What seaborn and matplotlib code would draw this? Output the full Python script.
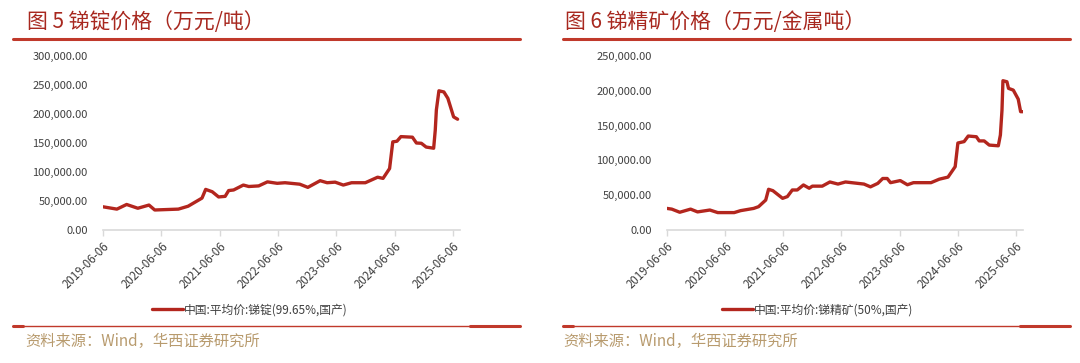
import matplotlib
matplotlib.use("Agg")
import matplotlib.pyplot as plt
import matplotlib.dates as mdates
from matplotlib.lines import Line2D
import pandas as pd
import seaborn as sns

# ---------------- data ----------------
ingot_dates = ["2019-06-06", "2019-09-01", "2019-11-01", "2020-01-10", "2020-03-20", "2020-04-25",
               "2020-09-20", "2020-11-20", "2021-01-15", "2021-02-15", "2021-03-10", "2021-04-20",
               "2021-05-30", "2021-07-10", "2021-08-01", "2021-09-01", "2021-11-01", "2021-12-05",
               "2022-02-05", "2022-04-01", "2022-06-01", "2022-07-20", "2022-10-20", "2022-12-10",
               "2023-02-25", "2023-04-10", "2023-05-30", "2023-07-20", "2023-09-10", "2023-12-05",
               "2024-02-20", "2024-03-25", "2024-05-05", "2024-05-25", "2024-06-20", "2024-07-15",
               "2024-09-25", "2024-10-20", "2024-11-20", "2024-12-20", "2025-02-05", "2025-02-15",
               "2025-02-22", "2025-03-10", "2025-04-10", "2025-05-05", "2025-06-10", "2025-07-05"]
ingot_values = [40000, 36000, 44000, 37500, 43000, 34500,
                36000, 41000, 50000, 55000, 70000, 66000,
                57000, 58000, 68000, 69000, 77500, 75000,
                76000, 83000, 80500, 81500, 79000, 73500,
                85000, 81500, 82500, 77500, 81500, 81500,
                91000, 89000, 106000, 152000, 153000, 161000,
                160000, 150000, 149500, 143000, 141000, 172000,
                207000, 240000, 238000, 227000, 195000, 191000]

ore_dates = ["2019-06-06", "2019-07-06", "2019-08-25", "2019-11-01", "2019-12-15", "2020-03-01",
             "2020-04-20", "2020-08-01", "2020-09-10", "2020-12-01", "2021-01-01", "2021-02-15",
             "2021-03-05", "2021-04-01", "2021-06-01", "2021-07-01", "2021-08-01", "2021-09-01",
             "2021-10-10", "2021-11-15", "2021-12-05", "2022-02-05", "2022-03-25", "2022-05-15",
             "2022-07-01", "2022-10-25", "2022-12-05", "2023-01-20", "2023-02-20", "2023-03-20",
             "2023-04-10", "2023-06-10", "2023-07-25", "2023-09-01", "2023-12-20", "2024-02-10",
             "2024-04-05", "2024-05-05", "2024-05-20", "2024-06-06", "2024-07-15", "2024-08-10",
             "2024-09-30", "2024-10-18", "2024-11-18", "2024-12-20", "2025-02-15", "2025-02-28",
             "2025-03-10", "2025-03-16", "2025-04-10", "2025-04-20", "2025-05-20", "2025-06-20",
             "2025-07-05", "2025-07-20"]
ore_values = [31000, 30000, 25500, 30000, 26000, 28700,
              25000, 25000, 27800, 31000, 33500, 43000,
              58500, 56500, 45500, 48000, 57500, 57500,
              64700, 60000, 63000, 63000, 69000, 66000,
              69000, 66000, 62000, 67000, 74000, 74000,
              68000, 71000, 65000, 68000, 68000, 73000,
              76000, 86000, 91000, 125000, 127000, 135000,
              134000, 128000, 128000, 122000, 121000, 136500,
              172000, 214500, 213000, 203500, 201000, 188000,
              170000, 170000]

tick_labels = ["2019-06-06", "2020-06-06", "2021-06-06", "2022-06-06",
               "2023-06-06", "2024-06-06", "2025-06-06"]

titles = ["图 5 锑锭价格（万元/吨）", "图 6 锑精矿价格（万元/金属吨）"]
series_names = ["中国:平均价:锑锭(99.65%,国产)", "中国:平均价:锑精矿(50%,国产)"]
source_text = "资料来源：Wind，华西证券研究所"
yticks_left = [0, 50000, 100000, 150000, 200000, 250000, 300000]
yticks_right = [0, 50000, 100000, 150000, 200000, 250000]

# ---------------- style ----------------
sns.set_theme(style="white")
plt.rcParams['font.family'] = ['Noto Sans CJK SC', 'DejaVu Sans']

LINE = "#B3261E"
TITLE_C = "#A8281F"
RULE_C = "#C0392B"
SRC_C = "#B89B6E"
TXT_C = "#404040"

fig = plt.figure(figsize=(10.8, 3.63), dpi=100)

ax_specs = [
    dict(rect=[103/1080, 133/363, 357/1080, 174/363], dates=ingot_dates, vals=ingot_values,
         yt=yticks_left, ymax=300000, title=titles[0], name=series_names[0],
         tx=27/1080, rule=(13/1080, 520/1080), leg_x=250/1080, src_x=25/1080),
    dict(rect=[667/1080, 133/363, 356/1080, 174/363], dates=ore_dates, vals=ore_values,
         yt=yticks_right, ymax=250000, title=titles[1], name=series_names[1],
         tx=565/1080, rule=(563/1080, 1070/1080), leg_x=818/1080, src_x=563/1080),
]

for spec in ax_specs:
    ax = fig.add_axes(spec["rect"])
    df = pd.DataFrame({"date": pd.to_datetime(spec["dates"]), "value": spec["vals"]})
    sns.lineplot(data=df, x="date", y="value", ax=ax, color=LINE, linewidth=2.4,
                 label=spec["name"], legend=False)
    ax.set_xlim(pd.Timestamp("2019-06-06"), pd.Timestamp("2025-07-20"))
    ax.set_ylim(0, spec["ymax"])
    ax.set_yticks(spec["yt"])
    ax.set_yticklabels([f"{v:,.2f}" for v in spec["yt"]])
    ax.set_xticks(pd.to_datetime(tick_labels))
    ax.set_xticklabels(tick_labels, rotation=45, ha="right", rotation_mode="anchor")
    ax.set_xlabel("")
    ax.set_ylabel("")
    for s in ["top", "right", "left"]:
        ax.spines[s].set_visible(False)
    ax.spines["bottom"].set_color("#D9D9D9")
    ax.spines["bottom"].set_linewidth(1.2)
    ax.tick_params(axis="y", length=0, pad=11, labelsize=8, labelcolor=TXT_C)
    ax.tick_params(axis="x", length=4, width=1, color="#D9D9D9", pad=3,
                   labelsize=8.3, labelcolor=TXT_C, bottom=True)
    ax.grid(False)

    # title and rules
    fig.text(spec["tx"], 1 - 22/363, spec["title"], color=TITLE_C, fontsize=15,
             va="center", ha="left")
    fig.add_artist(Line2D([spec["rule"][0], spec["rule"][1]], [1 - 39/363, 1 - 39/363],
                          color=RULE_C, linewidth=2.2, transform=fig.transFigure))
    fig.add_artist(Line2D([spec["rule"][0], spec["rule"][1]], [1 - 326/363, 1 - 326/363],
                          color=RULE_C, linewidth=1.0, transform=fig.transFigure))
    fig.add_artist(Line2D([spec["rule"][0], spec["rule"][0] + 10/1080], [1 - 326/363, 1 - 326/363],
                          color=RULE_C, linewidth=2.2, transform=fig.transFigure))
    fig.add_artist(Line2D([spec["rule"][1] - 50/1080, spec["rule"][1]], [1 - 326/363, 1 - 326/363],
                          color=RULE_C, linewidth=2.2, transform=fig.transFigure))
    # legend
    handles, labels = ax.get_legend_handles_labels()
    fig.legend(handles, labels, loc="center", bbox_to_anchor=(spec["leg_x"], 1 - 310/363),
               frameon=False, fontsize=8.5, handlelength=2.6, handletextpad=0.1,
               labelcolor=TXT_C)
    # source
    fig.text(spec["src_x"], 1 - 341/363, source_text, color=SRC_C, fontsize=11,
             va="center", ha="left")

fig.savefig("out.png", dpi=100)
